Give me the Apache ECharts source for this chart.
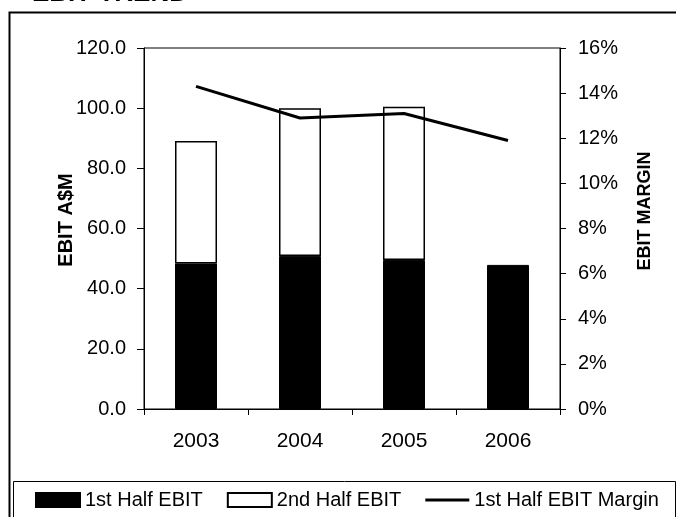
<!DOCTYPE html>
<html>
<head>
<meta charset="utf-8">
<script src="https://cdn.jsdelivr.net/npm/echarts@6/dist/echarts.min.js"></script>
<style>
  html, body { margin: 0; padding: 0; background: #fff; }
  #chart { width: 676px; height: 517px; }
</style>
</head>
<body>
<div id="chart"></div>
<script>
// EBIT by half-year (A$M) and first-half EBIT margin (%)
const years = ['2003', '2004', '2005', '2006'];
const firstHalfEbit = [48.4, 50.9, 49.5, 47.9];
const secondHalfEbit = [40.7, 49.1, 51.0, null];
const firstHalfMargin = [14.3, 12.9, 13.1, 11.9];
const seriesNames = ['1st Half EBIT', '2nd Half EBIT', '1st Half EBIT Margin'];

const FONT = '"Liberation Sans", Arial, sans-serif';

// plain thick line for the margin legend entry; the corner points keep the 44x14 box
const LINE_ICON = 'path://M0,0L0.01,0M0,5.5L44,5.5L44,8.5L0,8.5ZM44,14L43.99,14';

const chart = echarts.init(document.getElementById('chart'), null, { renderer: 'canvas' });

chart.setOption({
  backgroundColor: '#ffffff',
  animation: false,
  textStyle: { fontFamily: FONT, color: '#000' },
  grid: {
    left: 144, right: 116, top: 48, bottom: 108,
    show: true, borderColor: '#000', borderWidth: 1, backgroundColor: 'transparent'
  },
  legend: {
    left: 30, top: 485,
    itemWidth: 44, itemHeight: 14, itemGap: 24,
    textStyle: { fontFamily: FONT, fontSize: 20, color: '#000' },
    data: [
      { name: seriesNames[0], icon: 'rect' },
      { name: seriesNames[1], icon: 'rect' },
      { name: seriesNames[2], icon: LINE_ICON, itemStyle: { color: '#000', borderWidth: 0 } }
    ]
  },
  xAxis: {
    type: 'category',
    data: years,
    axisLine: { lineStyle: { color: '#000', width: 1 } },
    axisTick: { show: true, length: 6, lineStyle: { color: '#000' } },
    axisLabel: { fontSize: 21, color: '#000', fontFamily: FONT, margin: 22 }
  },
  yAxis: [
    {
      type: 'value', min: 0, max: 120, interval: 20,
      axisLine: { show: true, lineStyle: { color: '#000', width: 1 } },
      axisTick: { show: true, length: 7, lineStyle: { color: '#000' } },
      splitLine: { show: false },
      axisLabel: {
        fontSize: 20, color: '#000', fontFamily: FONT, margin: 18,
        formatter: v => v.toFixed(1)
      }
    },
    {
      type: 'value', min: 0, max: 16, interval: 2,
      position: 'right',
      axisLine: { show: true, lineStyle: { color: '#000', width: 1 } },
      axisTick: { show: true, length: 6, lineStyle: { color: '#000' } },
      splitLine: { show: false },
      axisLabel: {
        fontSize: 20, color: '#000', fontFamily: FONT, margin: 18,
        formatter: v => v + '%'
      }
    }
  ],
  series: [
    {
      name: seriesNames[0], type: 'bar', stack: 'ebit', barWidth: 42,
      data: firstHalfEbit,
      itemStyle: { color: '#000', borderColor: '#000', borderWidth: 1 }
    },
    {
      name: seriesNames[1], type: 'bar', stack: 'ebit', barWidth: 42,
      data: secondHalfEbit,
      itemStyle: { color: '#fff', borderColor: '#000', borderWidth: 1.5 }
    },
    {
      name: seriesNames[2], type: 'line', yAxisIndex: 1,
      data: firstHalfMargin,
      symbol: 'none', z: 5,
      lineStyle: { color: '#000', width: 3 },
      itemStyle: { color: '#000' }
    }
  ],
  graphic: [
    // outer frame around the chart and its title
    {
      type: 'rect', silent: true,
      shape: { x: 9.5, y: 12.5, width: 700, height: 600 },
      style: { fill: 'none', stroke: '#000', lineWidth: 2 }
    },
    // legend frame
    {
      type: 'rect', silent: true,
      shape: { x: 13.5, y: 481.5, width: 662, height: 60 },
      style: { fill: 'none', stroke: '#000', lineWidth: 1 }
    },
    {
      type: 'text', silent: true, x: 32, y: -19,
      style: {
        text: 'EBIT TREND', fontFamily: FONT, fontSize: 26, fontWeight: 'bold',
        fill: '#000', align: 'left', verticalAlign: 'top'
      }
    },
    {
      type: 'text', silent: true, x: 66, y: 220, rotation: Math.PI / 2,
      style: {
        text: 'EBIT A$M', fontFamily: FONT, fontSize: 20, fontWeight: 'bold',
        fill: '#000', align: 'center', verticalAlign: 'middle'
      }
    },
    {
      type: 'text', silent: true, x: 645, y: 211, rotation: Math.PI / 2,
      style: {
        text: 'EBIT MARGIN', fontFamily: FONT, fontSize: 18, fontWeight: 'bold',
        fill: '#000', align: 'center', verticalAlign: 'middle'
      }
    }
  ]
});
</script>
</body>
</html>
